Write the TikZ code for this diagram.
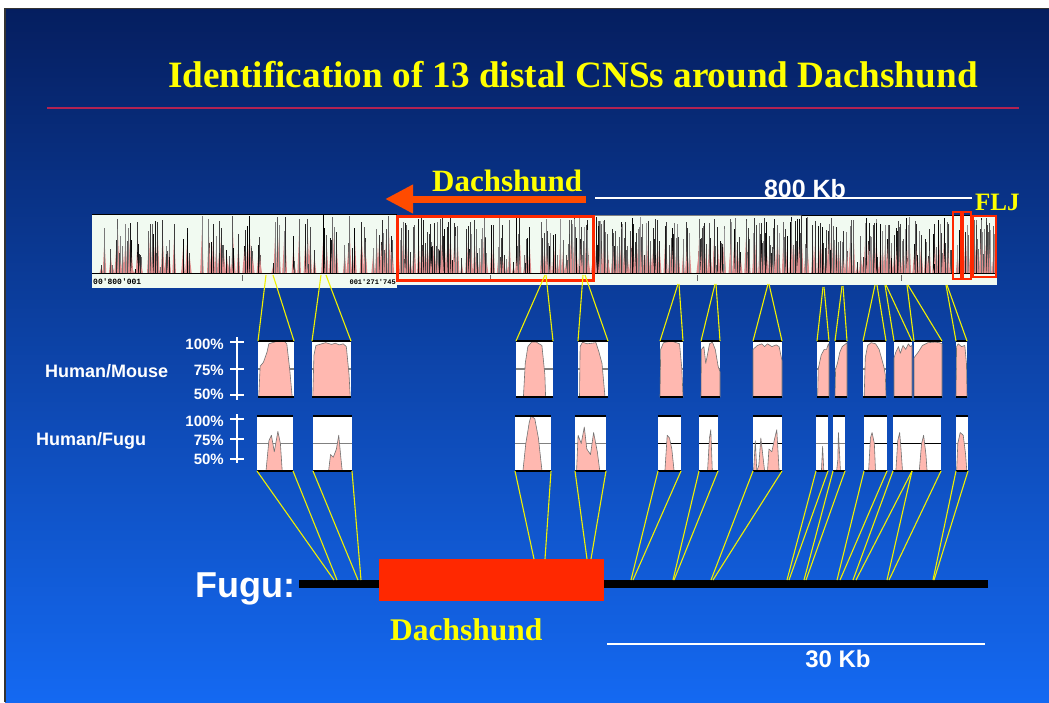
\documentclass[tikz,border=0pt]{standalone}
\usepackage{fontspec}
\setmainfont{Liberation Serif}
\setsansfont{Liberation Sans}
\setmonofont{Liberation Mono}
\usetikzlibrary{arrows.meta}
\definecolor{slidetop}{RGB}{5,30,95}
\definecolor{slidemid}{RGB}{13,76,192}
\definecolor{slidebot}{RGB}{20,105,242}
\definecolor{titleyellow}{RGB}{255,255,0}
\definecolor{titlerule}{RGB}{178,34,82}
\definecolor{genered}{RGB}{255,40,0}
\definecolor{arroworange}{RGB}{255,75,0}
\definecolor{trackbg}{RGB}{241,250,241}
\definecolor{spikepink}{RGB}{220,140,140}
\definecolor{cnspink}{RGB}{255,184,176}
\definecolor{linkyellow}{RGB}{240,240,0}

% one CNS plot: name, left, right, top, bottom, profile, colour of the 75% line
\newcommand{\cnsplot}[7]{%
  \node[cnsframe, minimum width={(#3-#2)*1pt}, minimum height={(#5-#4)*1pt}] (#1) at ({(#2+#3)/2},{(#4+#5)/2}) {};
  \begin{scope}[shift={(#2,#5)}, xscale={#3-#2}, yscale={#4-#5}]
    \draw[#7, line width=1.5pt] (0,0.5) -- (1,0.5);
    \filldraw[cnsfill] #6 -- cycle;
  \end{scope}
  \draw[boxrule] (#1.north west) -- (#1.north east);
  \draw[boxrule] (#1.south west) -- (#1.south east);
}

\begin{document}
\begin{tikzpicture}[
    x=1pt, y=-1pt,
    slidetext/.style={text=white, font=\sffamily\bfseries, inner sep=0pt},
    yellowtext/.style={text=titleyellow, font=\rmfamily\bfseries, inner sep=0pt},
    cnsframe/.style={rectangle, fill=white, inner sep=0pt, outer sep=0pt},
    boxrule/.style={black, line width=2pt},
    cnsfill/.style={fill=cnspink, draw=black!55, line width=0.6pt, line join=round},
    link/.style={linkyellow, line width=1.1pt},
    axis/.style={white, line width=1.8pt},
    scalebar/.style={white, line width=1.3pt},
    genebox/.style={rectangle, fill=genered, inner sep=0pt, outer sep=0pt},
    dacharrow/.style={-{Triangle[length=28pt, width=27pt]}, line width=7pt, arroworange},
]
    \useasboundingbox (0,0) rectangle (1049,702);
    \fill[white] (0,0) rectangle (1049,702);

    % Slide background
    \shade[top color=slidetop, middle color=slidemid, bottom color=slidebot] (5,8) rectangle (1049,702);
    \draw[black!80, line width=1.5pt] (5,702) -- (5,8.5) -- (1049,8.5);

    % Title
    \node[yellowtext, font=\fontsize{37.2}{44}\selectfont\bfseries, anchor=base] (title) at (573,87)
        {Identification of 13 distal CNSs around Dachshund};
    \draw[titlerule, line width=2pt] (47,108) -- (1019,108);

    % Genomic track
    \fill[trackbg] (92,214) rectangle (397,288);
    \fill[trackbg] (397,215) rectangle (997,285);
    \pgfmathsetseed{42}
    \foreach \k in {1,...,130}{
        \pgfmathsetmacro{\sx}{94+300*rnd}
        \pgfmathsetmacro{\sh}{4+54*pow(rnd,0.75)}
        \pgfmathsetmacro{\sg}{int(45+55*rnd)}
        \fill[spikepink] (\sx-1.8,273) -- (\sx,{273-0.75*\sh}) -- (\sx+1.8,273) -- cycle;
        \draw[black!\sg, line width=0.9pt] (\sx,273) -- (\sx,273-\sh);
    }
    \foreach \k in {1,...,480}{
        \pgfmathsetmacro{\sx}{399+596*rnd}
        \pgfmathsetmacro{\sh}{6+50*pow(rnd,0.65)}
        \pgfmathsetmacro{\sg}{int(40+60*rnd)}
        \fill[spikepink] (\sx-1.6,273) -- (\sx,{273-0.65*\sh}) -- (\sx+1.6,273) -- cycle;
        \draw[black!\sg, line width=0.8pt] (\sx,273) -- (\sx,273-\sh);
    }
    \draw[black, line width=1pt] (92,214) -- (397,214);
    \draw[black!50, line width=1pt] (397,215) -- (801,215);
    \draw[black, line width=1pt] (801,215) -- (997,215);
    \draw[black, line width=1.2pt] (92,273.5) -- (997,273.5);
    \draw[black, line width=0.8pt] (323,214) -- (323,273);
    \draw[black!50, line width=0.8pt] (499,215) -- (499,273);
    \draw[black!80, line width=0.8pt] (801,215) -- (801,273);
    \foreach \tx in {242,490,697,901}
        \draw[black!60, line width=0.6pt] (\tx,275) -- (\tx,281);
    \node[anchor=west, inner sep=0pt, font=\ttfamily\bfseries\fontsize{8}{8}\selectfont] (startpos) at (93,282) {00'800'001};
    \node[anchor=east, inner sep=0pt, font=\ttfamily\bfseries\fontsize{7}{7}\selectfont] (endpos) at (396,282) {001'271'745};

    % Gene boxes on the track
    \draw[genered, line width=3pt] (397,216) rectangle (593,280);
    \draw[genered, line width=2.5pt] (953,212) rectangle (961,279);
    \draw[genered, line width=2.5pt] (962.5,212) rectangle (971,279);
    \draw[genered, line width=2.5pt] (973,216) rectangle (996,277);

    % Direction of Dachshund and scale
    \coordinate (arrowtail) at (586,199);
    \coordinate (arrowtip) at (385,199);
    \draw[dacharrow] (arrowtail) -- (arrowtip);
    \node[yellowtext, font=\fontsize{31}{36}\selectfont\bfseries, anchor=base west] (dachtop) at (432,191) {Dachshund};
    \draw[scalebar] (595,198) -- (972,198);
    \node[slidetext, font=\sffamily\bfseries\fontsize{25}{30}\selectfont, anchor=base] (kb800) at (805,197) {800 Kb};
    \node[yellowtext, font=\fontsize{25}{30}\selectfont\bfseries, anchor=base west] (flj) at (975,210) {FLJ};

    % Axes and row labels
    \draw[axis] (237,337) -- (237,400);
    \foreach \ty in {342,369,395}
        \draw[axis] (230,\ty) -- (244,\ty);
    \draw[axis] (237,414) -- (237,463);
    \foreach \ty in {419,439,459}
        \draw[axis] (230,\ty) -- (244,\ty);
    \foreach \lab/\ly [count=\c] in {100\%/349, 75\%/375, 50\%/399, 100\%/426, 75\%/445, 50\%/464}
        \node[slidetext, font=\sffamily\bfseries\fontsize{15}{18}\selectfont, anchor=base east] (pct\c) at (224,\ly) {\lab};
    \node[slidetext, font=\sffamily\bfseries\fontsize{18}{22}\selectfont, anchor=base west] (hm) at (45,377) {Human/Mouse};
    \node[slidetext, font=\sffamily\bfseries\fontsize{18}{22}\selectfont, anchor=base west] (hf) at (36,445) {Human/Fugu};

    % Human/Mouse row
    \cnsplot{m1}{258}{294}{341}{397}{(0.02,0) -- (0.06,0.55) -- (0.15,0.62) -- (0.25,0.8) -- (0.3,0.95) -- (0.45,0.98) -- (0.55,1) -- (0.72,1) -- (0.8,0.95) -- (0.88,0.5) -- (0.95,0)}{black!50}
    \cnsplot{m2}{312}{351}{341}{397}{(0.02,0) -- (0.05,0.75) -- (0.1,0.92) -- (0.25,0.95) -- (0.35,0.97) -- (0.5,0.94) -- (0.6,0.96) -- (0.7,0.93) -- (0.8,0.95) -- (0.88,0.9) -- (0.95,0.4) -- (0.98,0)}{black!50}
    \cnsplot{m3}{516}{553}{341}{397}{(0.2,0) -- (0.25,0.6) -- (0.32,0.9) -- (0.42,0.98) -- (0.55,0.98) -- (0.7,0.92) -- (0.78,0.4) -- (0.8,0)}{black!50}
    \cnsplot{m4}{578}{608}{341}{397}{(0.05,0) -- (0.07,0.9) -- (0.15,0.98) -- (0.3,0.95) -- (0.6,0.97) -- (0.7,0.8) -- (0.8,0.6) -- (0.85,0.3) -- (0.9,0)}{black!50}
    \cnsplot{m5}{660}{683}{341}{397}{(0,0) -- (0.03,0.85) -- (0.15,0.97) -- (0.5,1) -- (0.85,0.95) -- (0.95,0.5) -- (1,0)}{black!50}
    \cnsplot{m6}{701}{720}{341}{397}{(0,0) -- (0.02,0.85) -- (0.15,0.9) -- (0.25,0.6) -- (0.45,0.95) -- (0.6,0.98) -- (0.75,0.85) -- (0.9,0.55) -- (1,0.45) -- (1,0)}{black!50}
    \cnsplot{m7}{753}{782}{341}{397}{(0,0) -- (0,0.85) -- (0.15,0.92) -- (0.3,0.95) -- (0.4,0.9) -- (0.5,0.95) -- (0.65,0.9) -- (0.8,0.93) -- (0.9,0.9) -- (1,0.65) -- (1,0)}{black!50}
    \cnsplot{m8}{817}{829}{341}{397}{(0.05,0) -- (0.1,0.5) -- (0.35,0.75) -- (0.6,0.85) -- (0.8,0.85) -- (0.95,0.95) -- (1,0.95) -- (1,0)}{black!50}
    \cnsplot{m9}{835}{847}{341}{397}{(0,0) -- (0.05,0.5) -- (0.2,0.6) -- (0.4,0.8) -- (0.6,0.9) -- (0.9,0.95) -- (1,0.97) -- (1,0)}{black!50}
    \cnsplot{m10}{863}{886}{341}{397}{(0.05,0) -- (0.1,0.7) -- (0.2,0.92) -- (0.35,0.97) -- (0.55,0.95) -- (0.7,0.85) -- (0.8,0.7) -- (0.9,0.55) -- (0.97,0.4) -- (1,0)}{black!50}
    \cnsplot{m11}{894}{912}{341}{397}{(0,0) -- (0,0.7) -- (0.1,0.8) -- (0.25,0.9) -- (0.35,0.78) -- (0.5,0.92) -- (0.65,0.85) -- (0.8,0.95) -- (0.9,0.9) -- (1,0.92) -- (1,0)}{black!50}
    \cnsplot{m12}{914}{942}{341}{397}{(0,0) -- (0,0.7) -- (0.15,0.8) -- (0.3,0.92) -- (0.5,0.97) -- (0.75,0.98) -- (0.9,0.97) -- (1,0.95) -- (1,0)}{black!50}
    \cnsplot{m13}{956}{967}{341}{397}{(0,0) -- (0.05,0.9) -- (0.2,0.95) -- (0.5,0.9) -- (0.8,0.92) -- (0.95,0.6) -- (1,0)}{black!50}

    % Human/Fugu row
    \cnsplot{f1}{257}{293}{416}{471}{(0.25,0) -- (0.33,0.55) -- (0.4,0.65) -- (0.48,0.35) -- (0.58,0.72) -- (0.65,0.5) -- (0.7,0)}{black!50}
    \cnsplot{f2}{313}{352}{416}{471}{(0.4,0) -- (0.45,0.3) -- (0.52,0.25) -- (0.6,0.4) -- (0.66,0.65) -- (0.72,0.2) -- (0.75,0)}{black!50}
    \cnsplot{f3}{515}{551}{416}{471}{(0.22,0) -- (0.3,0.5) -- (0.4,0.9) -- (0.45,1) -- (0.55,0.95) -- (0.65,0.6) -- (0.75,0)}{black!50}
    \cnsplot{f4}{575}{606}{416}{471}{(0.05,0) -- (0.1,0.65) -- (0.2,0.5) -- (0.3,0.8) -- (0.38,0.4) -- (0.5,0.3) -- (0.6,0.7) -- (0.72,0.35) -- (0.8,0)}{black!50}
    \cnsplot{f5}{658}{681}{416}{471}{(0.3,0) -- (0.4,0.65) -- (0.5,0.6) -- (0.6,0.4) -- (0.7,0)}{black}
    \cnsplot{f6}{699}{718}{416}{471}{(0.45,0) -- (0.55,0.6) -- (0.62,0.75) -- (0.7,0)}{black}
    \cnsplot{f7}{753}{782}{416}{471}{(0.02,0) -- (0.08,0.55) -- (0.13,0) -- (0.2,0.1) -- (0.27,0.6) -- (0.4,0) -- (0.5,0) -- (0.55,0.4) -- (0.65,0.35) -- (0.75,0.6) -- (0.82,0.75) -- (0.9,0)}{black}
    \cnsplot{f8}{816}{828}{416}{471}{(0.45,0) -- (0.55,0.45) -- (0.65,0)}{black!50}
    \cnsplot{f9}{833}{845}{416}{471}{(0.3,0) -- (0.4,0.2) -- (0.45,0.7) -- (0.55,0.3) -- (0.62,0)}{black!50}
    \cnsplot{f10}{864}{887}{416}{471}{(0.2,0) -- (0.28,0.6) -- (0.35,0.7) -- (0.45,0.5) -- (0.5,0)}{black}
    \cnsplot{f11}{893}{912}{416}{471}{(0.15,0) -- (0.25,0.55) -- (0.35,0.7) -- (0.42,0.4) -- (0.5,0)}{black}
    \cnsplot{f12}{912}{941}{416}{471}{(0.25,0) -- (0.33,0.5) -- (0.4,0.65) -- (0.48,0.3) -- (0.52,0)}{black}
    \cnsplot{f13}{956}{968}{416}{471}{(0.05,0) -- (0.15,0.5) -- (0.35,0.7) -- (0.6,0.65) -- (0.8,0.3) -- (0.9,0)}{black!50}

    % Fugu locus
    \draw[black, line width=8pt] (299,584) -- (988,584);
    \node[genebox, minimum width=225pt, minimum height=42pt] (dachbox) at (491.5,580) {};
    \node[slidetext, font=\sffamily\bfseries\fontsize{36}{42}\selectfont, anchor=base east] (fugu) at (296,597) {Fugu:};
    \node[yellowtext, font=\fontsize{31.5}{36}\selectfont\bfseries, anchor=base west] (dachbottom) at (390,640) {Dachshund};
    \draw[scalebar] (607,644) -- (985,644);
    \node[slidetext, font=\sffamily\bfseries\fontsize{24}{28}\selectfont, anchor=base] (kb30) at (838,667) {30 Kb};

    % Links: track -> mouse plot, fugu plot -> fugu locus
    \foreach \i/\ta/\tb/\ty/\ea/\eb/\ey in {1/266/273/275/334/337/580, 2/321/326/275/358/361/580,
        3/545/546/275/534/545/559, 4/583/585/275/587/591/559, 5/678/679/284/631/633/580,
        6/715/716/284/673/674/580, 7/768/769/284/711/713/580, 8/823/824/287/787/789/580,
        9/842/843/286/804/806/580, 10/875/877/285/837/840/580, 11/885/886/285/853/856/580,
        12/907/908/285/887/889/580, 13/946/947/285/933/934/580}{
        \coordinate (src-\i-l) at (\ta,\ty);
        \coordinate (src-\i-r) at (\tb,\ty);
        \coordinate (end-\i-l) at (\ea,\ey);
        \coordinate (end-\i-r) at (\eb,\ey);
        \draw[link] (src-\i-l) -- (m\i.north west);
        \draw[link] (src-\i-r) -- (m\i.north east);
        \draw[link] (f\i.south west) -- (end-\i-l);
        \draw[link] (f\i.south east) -- (end-\i-r);
    }

\end{tikzpicture}
\end{document}
